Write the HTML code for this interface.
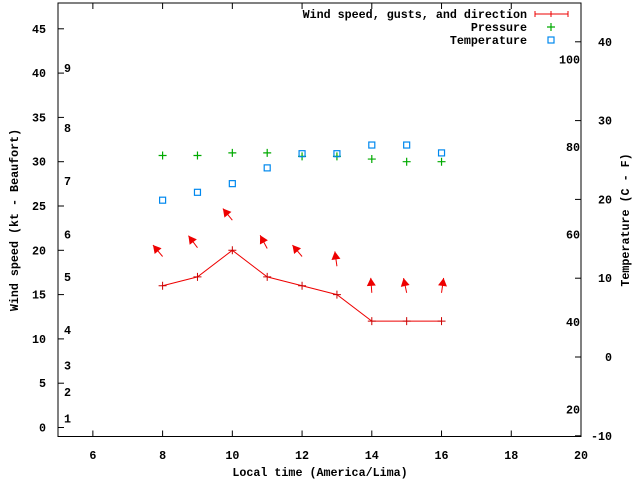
<!DOCTYPE html>
<html><head><meta charset="utf-8"><style>
body{margin:0;background:#fff}
svg text{font-family:"Liberation Mono","DejaVu Sans Mono",monospace;font-weight:bold;font-size:11.7px;fill:#000}
</style></head><body>
<svg id="chart" width="640" height="480" xmlns="http://www.w3.org/2000/svg">
<g id="g"></g>
</svg>
<script>
const hours=[8,9,10,11,12,13,14,15,16];
const windSpeed=[16,17,20,17,16,15,12,12,12];
const gustSpeed=[19.3,20.3,23.4,20.2,19.3,18.2,15.2,15.2,15.2];
const windDir=[320,323,321,332,320,352,356,348,8];
const pressure=[30.7,30.7,31.0,31.0,30.6,30.6,30.3,30.0,30.0];
const tempC=[19.9,20.9,22,24,25.8,25.8,26.9,26.9,25.9];
const xTicks=[6,8,10,12,14,16,18,20];
const yTicks=[0,5,10,15,20,25,30,35,40,45];
const cTicks=[-10,0,10,20,30,40];
const fTicks=[20,40,60,80,100];
const bftLabels=[1,2,3,4,5,6,7,8,9];
const bftPos=[1.0,4.0,7.0,11.0,17.0,21.8,27.8,33.8,40.6];

const L=58,R=581,T=3,B=436.5;
const xs=v=>L+(v-5)*(R-L)/15;
const ys=v=>427.5-v*8.86;
const yc=v=>357-v*7.88;
const yf=f=>yc((f-32)*5/9);
const g=document.getElementById('g');
const NS='http://www.w3.org/2000/svg';
function mk(t,a,txt){const e=document.createElementNS(NS,t);for(const k in a)e.setAttribute(k,a[k]);if(txt!=null)e.textContent=txt;g.appendChild(e);return e;}

let e=mk('rect',{x:L,y:T,width:R-L,height:B-T,fill:'none',stroke:'#000','stroke-width':1});


xTicks.forEach(v=>{const x=xs(v);
 mk('line',{x1:x,y1:B,x2:x,y2:B-6,stroke:'#000'});mk('line',{x1:x,y1:T,x2:x,y2:T+6,stroke:'#000'});
 const t=mk('text',{x:x,y:459,'text-anchor':'middle'},v);
 });
yTicks.forEach(v=>{const y=ys(v);
 mk('line',{x1:L,y1:y,x2:L+6,y2:y,stroke:'#000'});
 const t=mk('text',{x:46,y:y+4,'text-anchor':'end'},v);
 });
cTicks.forEach(v=>{const y=yc(v);
 mk('line',{x1:R,y1:y,x2:R-6,y2:y,stroke:'#000'});
 const t=mk('text',{x:612,y:y+4,'text-anchor':'end'},v);
 });
fTicks.forEach(v=>{const y=yf(v);
 const t=mk('text',{x:580,y:y+4,'text-anchor':'end'},v);
 });
bftLabels.forEach((b,i)=>{
 const t=mk('text',{x:64,y:ys(bftPos[i])+4},b);
 });

e=mk('text',{x:320,y:476,'text-anchor':'middle'},'Local time (America/Lima)');

e=mk('text',{x:0,y:0,'text-anchor':'middle',transform:'translate(18,220) rotate(-90)'},'Wind speed (kt - Beaufort)');

e=mk('text',{x:0,y:0,'text-anchor':'middle',transform:'translate(629,220) rotate(-90)'},'Temperature (C - F)');


e=mk('polyline',{points:hours.map((h,i)=>xs(h)+','+ys(windSpeed[i])).join(' '),fill:'none',stroke:'#e00','stroke-width':1});

hours.forEach((h,i)=>{const x=xs(h),y=ys(windSpeed[i]);
 e=mk('path',{d:`M${x-4},${y}H${x+4}M${x},${y-4}V${y+4}`,stroke:'#c00','stroke-width':1});
 });
hours.forEach((h,i)=>{const x=xs(h),y=ys(gustSpeed[i]);const a=windDir[i]*Math.PI/180;
 const dx=Math.sin(a)*15,dy=-Math.cos(a)*15;const hx=x+dx,hy=y+dy;
 const ux=dx/15,uy=dy/15;const px=-uy,py=ux;
 e=mk('g',{});
 const l=document.createElementNS(NS,'line');[['x1',x],['y1',y],['x2',hx],['y2',hy],['stroke','#e00']].forEach(p=>l.setAttribute(p[0],p[1]));e.appendChild(l);
 const p=document.createElementNS(NS,'polygon');
 p.setAttribute('points',`${hx},${hy} ${hx-ux*8+px*4.5},${hy-uy*8+py*4.5} ${hx-ux*8-px*4.5},${hy-uy*8-py*4.5}`);p.setAttribute('fill','#e00');e.appendChild(p);});
hours.forEach((h,i)=>{const x=xs(h),y=ys(pressure[i]);
 e=mk('path',{d:`M${x-4},${y}H${x+4}M${x},${y-4}V${y+4}`,stroke:'#0a0','stroke-width':1.2});
 });
hours.forEach((h,i)=>{const x=xs(h),y=yc(tempC[i]);
 e=mk('rect',{x:x-3,y:y-3,width:6,height:6,fill:'none',stroke:'#08e','stroke-width':1.2});
 });
e=mk('text',{x:527,y:18,'text-anchor':'end'},'Wind speed, gusts, and direction');
e=mk('path',{d:'M535,14H568M535,11V17M568,11V17M551,11V17',stroke:'#e00'});
e=mk('text',{x:527,y:31,'text-anchor':'end'},'Pressure');
e=mk('path',{d:'M547,27H555M551,23V31',stroke:'#0a0','stroke-width':1.2});
e=mk('text',{x:527,y:44,'text-anchor':'end'},'Temperature');
e=mk('rect',{x:548,y:37,width:6,height:6,fill:'none',stroke:'#08e','stroke-width':1.2});
</script>
</body></html>
